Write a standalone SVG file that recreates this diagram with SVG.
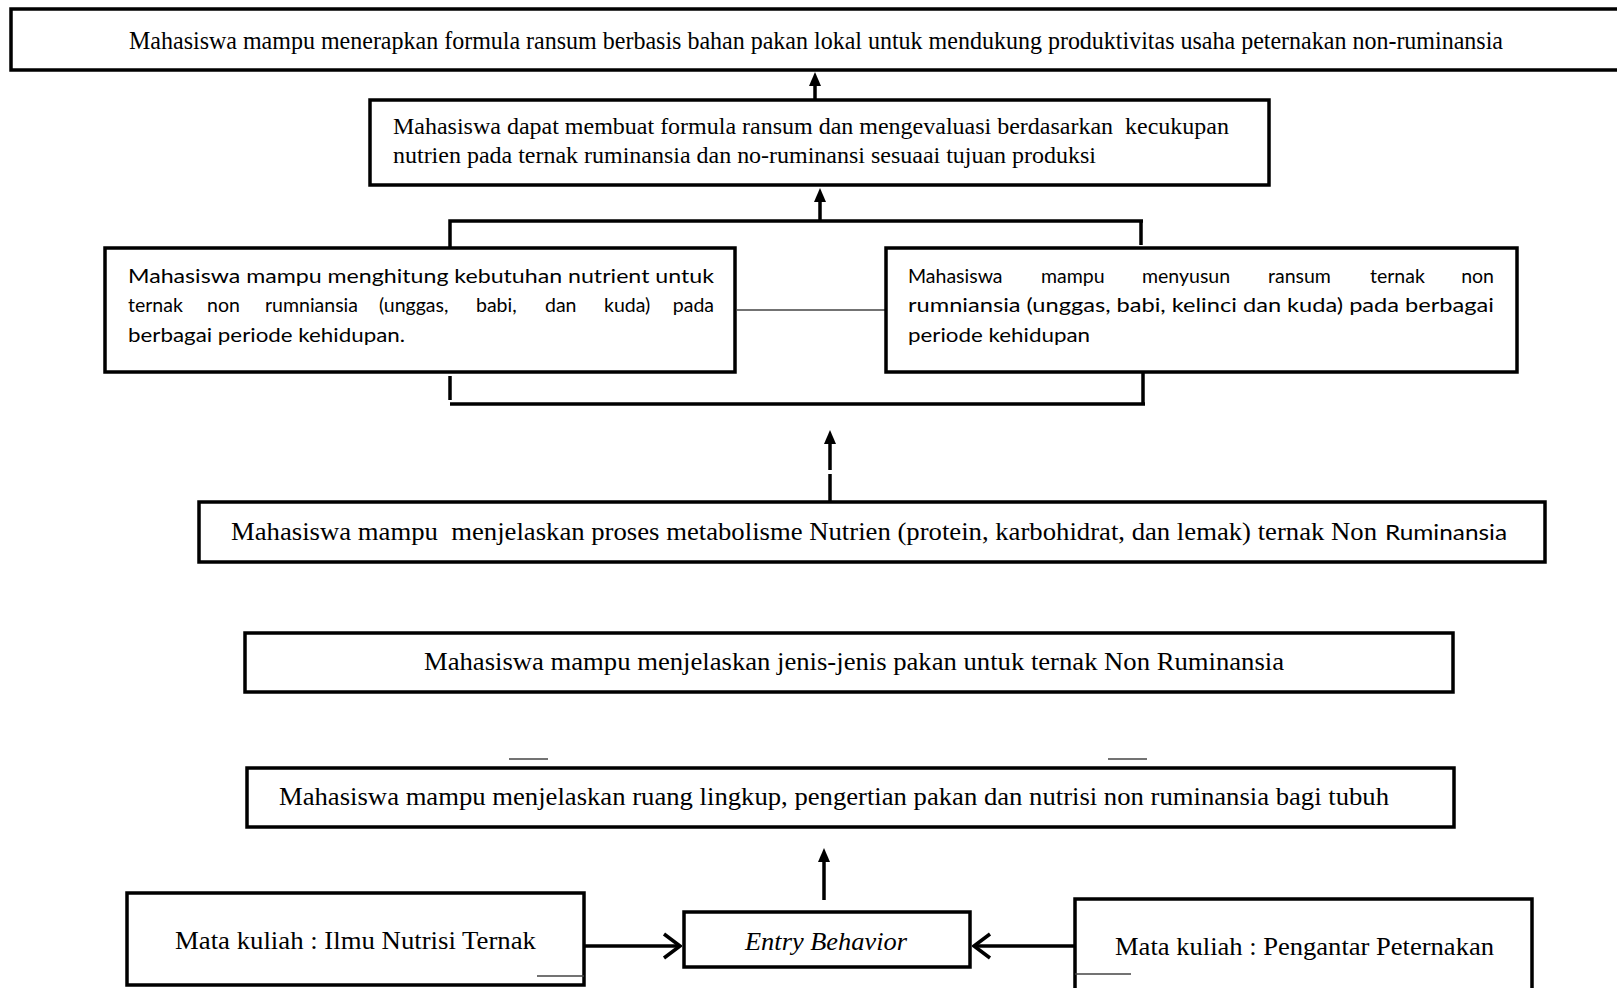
<svg xmlns="http://www.w3.org/2000/svg" width="1617" height="988" viewBox="0 0 1617 988">
<style>
.box{fill:#fff;stroke:#000;stroke-width:3.5}
.serif{font-family:"Liberation Serif","Times New Roman",serif;font-size:25px;fill:#000}
.sans{font-family:Lato,"Open Sans","Liberation Sans",sans-serif;font-size:19.5px;fill:#000}
.ln{stroke:#000;stroke-width:3.5;fill:none}
.thin{stroke:#444;stroke-width:1.5;fill:none}
</style>
<defs>
<marker id="tri" viewBox="0 0 14 12" markerWidth="14" markerHeight="12" refX="4" refY="6" orient="auto" markerUnits="userSpaceOnUse">
<path d="M0,0 L14,6 L0,12 z" fill="#000"/>
</marker>
<marker id="chev" viewBox="-2 -2 20 28" markerWidth="20" markerHeight="28" refX="16" refY="12" orient="auto" markerUnits="userSpaceOnUse">
<path d="M0,0 L16,12 L0,24" fill="none" stroke="#000" stroke-width="3.5"/>
</marker>
</defs>
<rect width="1617" height="988" fill="#fff"/>

<g id="connectors">
<line class="ln" x1="815" y1="100" x2="815" y2="82" marker-end="url(#tri)"/>
<line class="ln" x1="820" y1="221" x2="820" y2="198" marker-end="url(#tri)"/>
<polyline class="ln" points="450,248 450,221 1143,221"/>
<line class="ln" x1="1141" y1="221" x2="1141" y2="245"/>
<line class="thin" x1="737" y1="310" x2="886" y2="310"/>
<line class="ln" x1="450" y1="376" x2="450" y2="400"/>
<polyline class="ln" points="450,404 1145,404"/>
<line class="ln" x1="1143" y1="372" x2="1143" y2="404"/>
<line class="ln" x1="830" y1="502" x2="830" y2="474"/>
<line class="ln" x1="830" y1="470" x2="830" y2="440" marker-end="url(#tri)"/>
<line class="thin" x1="509" y1="759" x2="548" y2="759"/>
<line class="thin" x1="1108" y1="759" x2="1147" y2="759"/>
<line class="ln" x1="824" y1="900" x2="824" y2="858" marker-end="url(#tri)"/>
<line class="ln" x1="584" y1="946" x2="680" y2="946" marker-end="url(#chev)"/>
<line class="ln" x1="1075" y1="946" x2="974" y2="946" marker-end="url(#chev)"/>
</g>

<g id="node-top">
<rect class="box" x="11" y="9" width="1620" height="61"/>
<text class="serif" x="129" y="48.5" textLength="1374" lengthAdjust="spacingAndGlyphs">Mahasiswa mampu menerapkan formula ransum berbasis bahan pakan lokal untuk mendukung produktivitas usaha peternakan non-ruminansia</text>
</g>

<g id="node-formula">
<rect class="box" x="370" y="100" width="899" height="85"/>
<text class="serif" x="393" y="134" textLength="836" lengthAdjust="spacingAndGlyphs" style="font-size:24px" xml:space="preserve">Mahasiswa dapat membuat formula ransum dan mengevaluasi berdasarkan  kecukupan</text>
<text class="serif" x="393" y="163" textLength="703" lengthAdjust="spacingAndGlyphs" style="font-size:24px">nutrien pada ternak ruminansia dan no-ruminansi sesuaai tujuan produksi</text>
</g>

<g id="node-menghitung">
<rect class="box" x="105" y="248" width="630" height="124"/>
<text class="sans" x="128" y="283" textLength="586" lengthAdjust="spacingAndGlyphs">Mahasiswa mampu menghitung kebutuhan nutrient untuk</text>
<text class="sans" y="312"><tspan x="128">ternak</tspan><tspan x="207">non</tspan><tspan x="265">rumniansia</tspan><tspan x="379">(unggas,</tspan><tspan x="476">babi,</tspan><tspan x="545">dan</tspan><tspan x="604">kuda)</tspan><tspan x="714" text-anchor="end">pada</tspan></text>
<text class="sans" x="128" y="342" textLength="277" lengthAdjust="spacingAndGlyphs">berbagai periode kehidupan.</text>
</g>

<g id="node-menyusun">
<rect class="box" x="886" y="248" width="631" height="124"/>
<text class="sans" y="283"><tspan x="908">Mahasiswa</tspan><tspan x="1041">mampu</tspan><tspan x="1142">menyusun</tspan><tspan x="1268">ransum</tspan><tspan x="1370">ternak</tspan><tspan x="1494" text-anchor="end">non</tspan></text>
<text class="sans" x="908" y="312" textLength="586" lengthAdjust="spacingAndGlyphs">rumniansia (unggas, babi, kelinci dan kuda) pada berbagai</text>
<text class="sans" x="908" y="342" textLength="182" lengthAdjust="spacingAndGlyphs">periode kehidupan</text>
</g>

<g id="node-metabolisme">
<rect class="box" x="199" y="502" width="1346" height="60"/>
<text class="serif" x="231" y="540" textLength="1146" lengthAdjust="spacingAndGlyphs" xml:space="preserve">Mahasiswa mampu  menjelaskan proses metabolisme Nutrien (protein, karbohidrat, dan lemak) ternak Non</text>
<text class="sans" x="1385" y="540" textLength="122" lengthAdjust="spacingAndGlyphs" style="font-size:22px">Ruminansia</text>
</g>

<g id="node-jenis">
<rect class="box" x="245" y="633" width="1208" height="59"/>
<text class="serif" x="424" y="670" textLength="860" lengthAdjust="spacingAndGlyphs">Mahasiswa mampu menjelaskan jenis-jenis pakan untuk ternak Non Ruminansia</text>
</g>

<g id="node-ruang">
<rect class="box" x="247" y="768" width="1207" height="59"/>
<text class="serif" x="279" y="805" textLength="1110" lengthAdjust="spacingAndGlyphs">Mahasiswa mampu menjelaskan ruang lingkup, pengertian pakan dan nutrisi non ruminansia bagi tubuh</text>
</g>

<g id="node-ilmu">
<rect class="box" x="127" y="893" width="457" height="92"/>
<line class="thin" x1="537" y1="976" x2="584" y2="976"/>
<text class="serif" x="175" y="949" textLength="361" lengthAdjust="spacingAndGlyphs">Mata kuliah : Ilmu Nutrisi Ternak</text>
</g>

<g id="node-entry">
<rect class="box" x="684" y="912" width="286" height="55"/>
<text class="serif" x="745" y="950" textLength="162" lengthAdjust="spacingAndGlyphs" font-style="italic">Entry Behavior</text>
</g>

<g id="node-pengantar">
<rect class="box" x="1075" y="899" width="457" height="110"/>
<line class="thin" x1="1075" y1="974" x2="1131" y2="974"/>
<text class="serif" x="1115" y="955" textLength="379" lengthAdjust="spacingAndGlyphs">Mata kuliah : Pengantar Peternakan</text>
</g>
</svg>
